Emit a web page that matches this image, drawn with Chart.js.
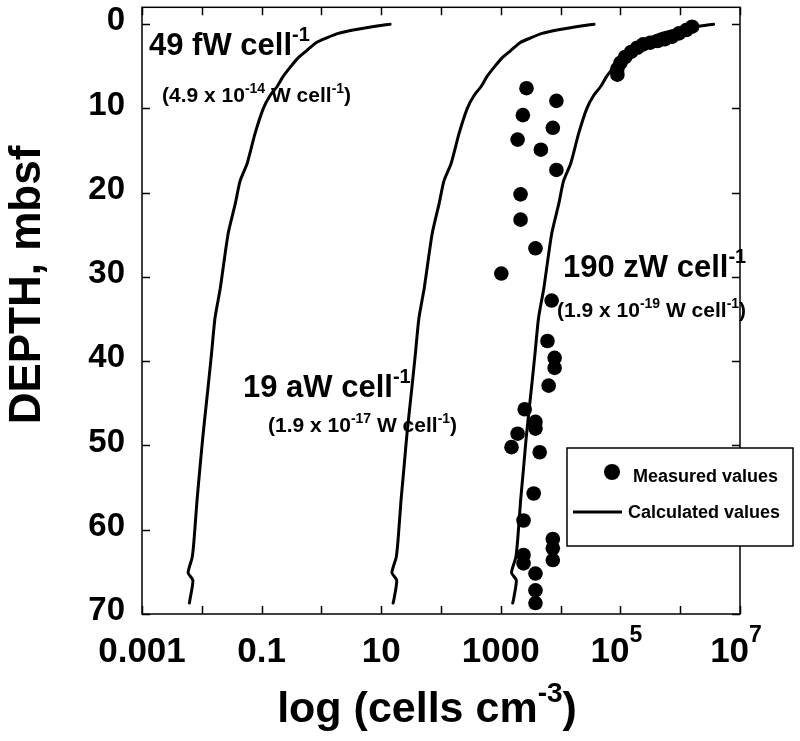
<!DOCTYPE html>
<html>
<head>
<meta charset="utf-8">
<script src="https://cdn.jsdelivr.net/npm/chart.js@4.4.1/dist/chart.umd.min.js"></script>
<style>
  html, body { margin: 0; padding: 0; background: #fff; }
  #wrap { width: 800px; height: 741px; position: relative; }
</style>
</head>
<body>
<div id="wrap"><canvas id="chart"></canvas></div>
<script>
// depth (mbsf) of the calculated profiles
const depthCalc = [0, 0.3, 0.7, 1.1, 1.6, 2.2, 3.1, 4.0, 5.1, 6.2, 7.4, 8.5, 10, 13, 16.5, 18.6,
    21.3, 24.9, 31.3, 34.9, 39.2, 42.7, 48.7, 52.7, 56.6, 61.3, 63.3, 65.1, 66, 68.4, 68.7];

// calculated cells cm-3 for each power per cell
const calc49fW = [14.1, 7.08, 3.39, 1.91, 1.26, 0.813, 0.575, 0.407, 0.302, 0.229, 0.182, 0.138,
    0.107, 0.0776, 0.0575, 0.0437, 0.0363, 0.0275, 0.0204, 0.0166, 0.0145, 0.0129, 0.0105,
    0.0093, 0.0083, 0.0074, 0.0069, 0.0059, 0.0071, 0.0063, 0.0062];
const calc19aW = [36300, 18200, 8710, 4900, 3240, 2090, 1480, 1050, 776, 589, 468, 355, 275, 200,
    148, 112, 93, 71, 52.5, 42.7, 37.2, 33.1, 26.9, 24, 21.4, 19.1, 17.8, 15.1, 18.2, 16.2, 15.8];
const calc190zW = [3630000, 1820000, 871000, 490000, 324000, 209000, 148000, 105000, 77600, 58900,
    46800, 35500, 27500, 20000, 14800, 11200, 9330, 7080, 5250, 4270, 3720, 3310, 2690, 2400,
    2140, 1910, 1780, 1510, 1820, 1620, 1580];

// measured cell counts
const measuredDepth = [6.0, 5.3, 4.6, 3.9, 3.3, 2.8, 2.4, 2.2, 2.0, 1.8, 1.5, 1.1, 0.7, 0.3,
    7.6, 9.1, 10.8, 12.3, 13.7, 14.9, 17.3, 20.2, 23.2, 26.6, 29.6, 32.8, 37.6, 39.6, 40.8,
    42.9, 45.7, 47.2, 48.0, 48.6, 50.2, 50.8, 55.7, 58.9, 61.1, 62.2, 63.6, 63.0, 64.0, 65.2,
    67.2, 68.7];
const measuredCells = [89100, 89100, 100000, 120000, 151000, 191000, 240000, 316000, 417000,
    550000, 724000, 955000, 1260000, 1580000,
    2690, 8510, 2340, 7410, 1910, 4680, 8510, 2140, 2140, 3800, 1020, 7080, 6030, 7940, 7940,
    6310, 2510, 3800, 3800, 1910, 1510, 4470, 3550, 2400, 7410, 7410, 7410, 2400, 2400, 3800,
    3800, 3800];

// axes
const xTickValues = [0.001, 0.01, 0.1, 1, 10, 100, 1000, 10000, 100000, 1000000, 10000000];
const xTickLabels = ['0.001', '', '0.1', '', '10', '', '1000', '', '10^5', '', '10^7'];
const yTickValues = [0, 10, 20, 30, 40, 50, 60, 70];

const FONT = '"Liberation Sans", Arial, Helvetica, sans-serif';

function toPoints(xs, ys) {
    return xs.map((v, i) => ({ x: v, y: ys[i] }));
}

// text with superscripts: parts = [text, size, rise]
function drawRich(ctx, parts, x, y, align) {
    let w = 0;
    parts.forEach(p => {
        ctx.font = `bold ${p[1]}px ${FONT}`;
        w += ctx.measureText(p[0]).width;
    });
    let cx = align === 'center' ? x - w / 2 : x;
    ctx.textAlign = 'left';
    ctx.textBaseline = 'alphabetic';
    parts.forEach(p => {
        ctx.font = `bold ${p[1]}px ${FONT}`;
        ctx.fillText(p[0], cx, y - (p[2] || 0));
        cx += ctx.measureText(p[0]).width;
    });
}

const framePlugin = {
    id: 'frame',
    afterDraw(chart) {
        const ctx = chart.ctx;
        const a = chart.chartArea;
        const xs = chart.scales.x;
        const ys = chart.scales.y;
        const tick = 8;
        ctx.save();
        ctx.strokeStyle = '#000';
        ctx.fillStyle = '#000';
        ctx.lineWidth = 1.5;
        ctx.strokeRect(a.left, a.top, a.right - a.left, a.bottom - a.top);

        // inward ticks on all four sides
        ctx.beginPath();
        xTickValues.forEach(v => {
            const px = Math.round(xs.getPixelForValue(v)) + 0.5;
            ctx.moveTo(px, a.bottom); ctx.lineTo(px, a.bottom - tick);
            ctx.moveTo(px, a.top); ctx.lineTo(px, a.top + tick);
        });
        yTickValues.forEach(v => {
            const py = Math.round(ys.getPixelForValue(v)) + 0.5;
            ctx.moveTo(a.left, py); ctx.lineTo(a.left + tick, py);
            ctx.moveTo(a.right, py); ctx.lineTo(a.right - tick, py);
        });
        ctx.stroke();

        // y tick labels
        ctx.font = `bold 33px ${FONT}`;
        ctx.textAlign = 'right';
        ctx.textBaseline = 'middle';
        yTickValues.forEach(v => {
            ctx.fillText(String(v), a.left - 17, ys.getPixelForValue(v) - 3);
        });

        // x tick labels
        xTickValues.forEach((v, i) => {
            const lab = xTickLabels[i];
            if (!lab) return;
            const px = xs.getPixelForValue(v);
            if (lab.includes('^')) {
                const [b, e] = lab.split('^');
                drawRich(ctx, [[b, 35, 0], [e, 23, 20]], px - 4, a.bottom + 48, 'center');
            } else {
                drawRich(ctx, [[lab, 35, 0]], px, a.bottom + 48, 'center');
            }
        });

        // axis titles
        drawRich(ctx, [['log (cells cm', 43, 0], ['-3', 28, 20], [')', 43, 0]], 427, 722, 'center');
        ctx.save();
        ctx.translate(40, 285);
        ctx.rotate(-Math.PI / 2);
        drawRich(ctx, [['DEPTH, mbsf', 44, 0]], 0, 0, 'center');
        ctx.restore();

        // curve labels
        drawRich(ctx, [['49 fW cell', 31, 0], ['-1', 20, 14]], 149, 55);
        drawRich(ctx, [['(4.9 x 10', 21, 0], ['-14', 14, 9], [' W cell', 21, 0], ['-1', 14, 9], [')', 21, 0]], 162, 102);
        drawRich(ctx, [['19 aW cell', 31, 0], ['-1', 20, 14]], 243, 397);
        drawRich(ctx, [['(1.9 x 10', 21, 0], ['-17', 14, 9], [' W cell', 21, 0], ['-1', 14, 9], [')', 21, 0]], 268, 432);
        drawRich(ctx, [['190 zW cell', 31, 0], ['-1', 20, 14]], 563, 277);
        drawRich(ctx, [['(1.9 x 10', 21, 0], ['-19', 14, 9], [' W cell', 21, 0], ['-1', 14, 9], [')', 21, 0]], 557, 317);

        // legend box
        const lx = 567, ly = 448, lw = 226, lh = 98;
        ctx.fillStyle = '#fff';
        ctx.fillRect(lx, ly, lw, lh);
        ctx.lineWidth = 1.5;
        ctx.strokeRect(lx, ly, lw, lh);
        ctx.fillStyle = '#000';
        ctx.beginPath();
        ctx.arc(612, 472, 8, 0, Math.PI * 2);
        ctx.fill();
        ctx.lineWidth = 3;
        ctx.beginPath();
        ctx.moveTo(573, 512); ctx.lineTo(622, 512);
        ctx.stroke();
        drawRich(ctx, [['Measured values', 18, 0]], 633, 482);
        drawRich(ctx, [['Calculated values', 18, 0]], 628, 518);
        ctx.restore();
    }
};

const lineStyle = {
    showLine: true,
    borderColor: '#000',
    borderWidth: 3,
    borderJoinStyle: 'round',
    borderCapStyle: 'round',
    pointRadius: 0,
    tension: 0.2,
    fill: false
};

new Chart(document.getElementById('chart').getContext('2d'), {
    type: 'scatter',
    data: {
        datasets: [
            {
                label: 'Measured values',
                data: toPoints(measuredCells, measuredDepth),
                backgroundColor: '#000',
                borderWidth: 0,
                pointRadius: 7.3
            },
            { label: '49 fW cell-1', data: toPoints(calc49fW, depthCalc), ...lineStyle },
            { label: '19 aW cell-1', data: toPoints(calc19aW, depthCalc), ...lineStyle },
            { label: '190 zW cell-1', data: toPoints(calc190zW, depthCalc), ...lineStyle }
        ]
    },
    options: {
        responsive: true,
        maintainAspectRatio: false,
        animation: false,
        layout: {
            padding: { left: 142, right: 60, top: 7, bottom: 127 }
        },
        plugins: {
            legend: { display: false },
            tooltip: { enabled: false }
        },
        scales: {
            x: {
                type: 'logarithmic',
                min: 0.001,
                max: 10000000,
                display: false
            },
            y: {
                type: 'linear',
                reverse: true,
                min: -2,
                max: 70,
                display: false
            }
        }
    },
    plugins: [framePlugin]
});
</script>
</body>
</html>
